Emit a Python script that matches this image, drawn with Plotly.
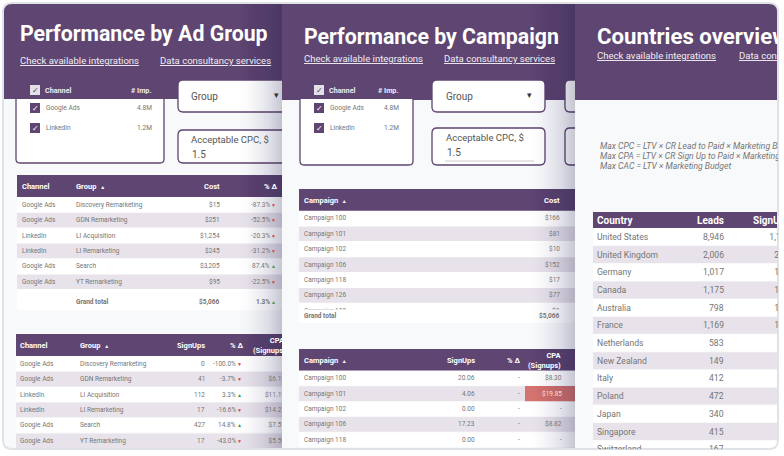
import plotly.graph_objects as go

W, H = 784, 456
PURPLE = "#5f4571"
STRIPE = "#e8e3ea"
PANEL = "#f8f9fa"
GREY = "#757575"
LINK = "#f1edf3"
FIG = "\u2007"
BOTTOM = 449

# panel 1
adgroup_channel = ["Google Ads", "Google Ads", "LinkedIn", "LinkedIn", "Google Ads", "Google Ads"]
adgroup_group = ["Discovery Remarketing", "GDN Remarketing", "LI Acquisition", "LI Remarketing", "Search", "YT Remarketing"]
adgroup_cost = ["$15", "$251", "$1,254", "$245", "$3,205", "$95"]
adgroup_cost_delta = [-87.3, -52.5, -20.3, -31.2, 87.4, -22.5]
adgroup_signups = [0, 41, 112, 17, 427, 17]
adgroup_signups_delta = [-100.0, -3.7, 3.3, -16.6, 14.8, -43.0]
adgroup_cpa = ["", "$6.12", "$11.19", "$14.21", "$7.51", "$5.59"]
# panel 2
campaign_names = ["Campaign 100", "Campaign 101", "Campaign 102", "Campaign 106", "Campaign 118", "Campaign 126"]
campaign_cost = ["$166", "$81", "$10", "$152", "$17", "$77"]
campaign_signups = ["20.06", "4.06", "0.00", "17.23", "0.00"]
campaign_cpa = ["$8.30", "$19.85", "-", "$8.82", "-"]
# panel 3
countries = ["United States", "United Kingdom", "Germany", "Canada", "Australia", "France", "Netherlands",
             "New Zealand", "Italy", "Poland", "Japan", "Singapore", "Switzerland"]
country_leads = ["8,946", "2,006", "1,017", "1,175", "798", "1,169", "583", "149", "412", "472", "340", "415", "167"]
country_signups = ["1,148", "256", "148", "142", "139", "121", "78", "45", "62", "58", "50", "57", "20"]
formulas = ["Max CPC = LTV × CR Lead to Paid × Marketing Budget",
            "Max CPA = LTV × CR Sign Up to Paid × Marketing Budget",
            "Max CAC = LTV × Marketing Budget"]

fig = go.Figure()
shapes, notes = [], []


def rect(x0, y0, x1, y1, fill, line=None, lw=0, layer="below"):
    shapes.append(dict(type="rect", x0=x0, y0=y0, x1=x1, y1=y1, fillcolor=fill, layer=layer,
                       line=dict(color=line or fill, width=lw)))


def round_path(x0, y0, x1, y1, r):
    return (f"M{x0+r},{y0} L{x1-r},{y0} Q{x1},{y0} {x1},{y0+r} L{x1},{y1-r} Q{x1},{y1} {x1-r},{y1} "
            f"L{x0+r},{y1} Q{x0},{y1} {x0},{y1-r} L{x0},{y0+r} Q{x0},{y0} {x0+r},{y0} Z")


def rrect(x0, y0, x1, y1, r, fill, line=None, lw=0):
    shapes.append(dict(type="path", path=round_path(x0, y0, x1, y1, r), fillcolor=fill, layer="below",
                       line=dict(color=line or fill, width=lw)))


def text(x, y, s, size=8, color=GREY, anchor="left", bold=False, width=None, italic=False, clip_h=None):
    # width and clip_h cut the text off, which is how the panels overlap in the picture
    notes.append(dict(x=x, y=y, text=s, xref="x", yref="y", showarrow=False, xanchor=anchor,
                      yanchor="top" if clip_h else "middle", valign="top", borderpad=0, borderwidth=0,
                      align="left" if anchor == "left" else anchor, width=width, height=clip_h,
                      font=dict(family="Roboto", size=size, color=color, weight=700 if bold else 400,
                                style="italic" if italic else "normal")))


def cell(x, yc, s, size, color=GREY, anchor="left", bold=False, width=None):
    top = yc - size * 0.65
    if yc + size * 0.6 > BOTTOM:
        if BOTTOM - top > 1:
            text(x, top, s, size, color, anchor, bold, width, clip_h=BOTTOM - top)
    else:
        text(x, yc, s, size, color, anchor, bold, width)


def rows(x0, x1, y0, n, row_h):
    for i in range(n):
        rect(x0, y0 + i * row_h + 0.4, x1, y0 + (i + 1) * row_h - 0.4, STRIPE if i % 2 else "white")


def column(x, y0, row_h, values, size, anchor="right", colors=None, width=None):
    for i, v in enumerate(values):
        cell(x, y0 + (i + 0.5) * row_h, str(v), size, colors[i] if colors else GREY, anchor, width=width)


def arrows(x, y0, row_h, deltas):
    for i, d in enumerate(deltas):
        text(x, y0 + (i + 0.5) * row_h, "▲" if d >= 0 else "▼", 5, "#3f9b57" if d >= 0 else "#d8424a", "center")


def pad(v, total):
    return FIG * max(round(total - len(v.replace(",", "")) - 0.5 * v.count(",")), 0) + v


def selector(x0, x1, xbox, xname, xval, y1):
    rrect(x0, 80, x1, y1, 4, "white", PURPLE, 1.3)
    rect(x0, 80, x1, 99, PURPLE)
    rect(xbox, 85, xbox + 10, 95, "#e4e0e8")
    text(xbox + 5, 90, "✓", 8, "#4a3a58", "center")
    text(xname, 90, "Channel", 7.2, LINK, bold=True)
    text(xval, 90, "# Imp.", 7.2, LINK, "right", bold=True)
    for y, name, val in [(108, "Google Ads", "4.8M"), (128, "LinkedIn", "1.2M")]:
        rect(xbox, y - 5, xbox + 10, y + 5, PURPLE)
        text(xbox + 5, y, "✓", 8, "white", "center")
        text(xname + 0.5, y, name, 6.6, GREY)
        text(xval, y, val, 6.6, GREY, "right")


def controls(x0, x1, xt, y_in0, y_in1, arrow):
    rrect(x0, 80, x1, 112, 5, "white", PURPLE, 1.3)
    text(xt, 96, "Group", 10, "#555555")
    text(arrow, 95, "▾", 9, "#333333", "center")
    rrect(x0, y_in0, x1, y_in1, 5, "white", PURPLE, 1.3)
    text(xt, y_in0 + 9, "Acceptable CPC, $", 9.5, "#555555")
    text(xt + 1, y_in0 + 24, "1.5", 10, "#555555")


def shadow(x1, span):
    steps = 22
    for i in range(steps):
        a = 0.024 * (i + 1) / steps
        rect(x1 - span + span * i / steps, 3, x1, BOTTOM, f"rgba(50,45,100,{a:.4f})", layer="above")


SORT = "<span style='font-size:5px'>▲</span>"

# ---- panel 1
rect(3, 3, 282, BOTTOM, PANEL)
rect(3, 3, 282, 99, PURPLE)
text(20, 33, "Performance by Ad Group", 21.3, "white", bold=True)
text(20, 60, "<u>Check available integrations</u>", 9.55, LINK)
text(160, 60, "<u>Data consultancy services</u>", 9.55, LINK)
selector(16, 164, 30, 45, 152, 163)
controls(178, 300, 191, 130, 163, 276)

rrect(17, 175, 282, 310, 4, "white")
rect(17, 175, 282, 197, PURPLE)
rows(17, 282, 197, 6, 15.4)
text(22, 186, "Channel", 7.5, "white", bold=True)
text(76, 186, "Group  " + SORT, 7.5, "white", bold=True)
text(220, 186, "Cost", 7.5, "white", "right", bold=True)
text(277, 186, "% Δ", 7.5, "white", "right", bold=True)
column(22, 197, 15.4, adgroup_channel, 6.5, "left")
column(76, 197, 15.4, adgroup_group, 6.5, "left")
column(220, 197, 15.4, adgroup_cost, 6.5)
column(270, 197, 15.4, [f"{v:.1f}%" for v in adgroup_cost_delta], 6.5)
arrows(273, 197, 15.4, adgroup_cost_delta)
text(76, 302, "Grand total", 6.5, GREY, bold=True)
text(220, 302, "$5,066", 6.5, GREY, "right", bold=True)
text(270, 302, "1.3%", 6.5, GREY, "right", bold=True)
arrows(273, 294.3, 15.4, [1.3])

rect(16, 334, 282, 356, PURPLE)
rows(16, 282, 356, 6, 15.4)
text(20, 345, "Channel", 7.5, "white", bold=True)
text(80, 345, "Group  " + SORT, 7.5, "white", bold=True)
text(205, 345, "SignUps", 7.5, "white", "right", bold=True)
text(243, 345, "% Δ", 7.5, "white", "right", bold=True)
text(253, 345, FIG * 4 + "CPA<br>(Signups)", 7.5, "white", bold=True, width=29)
column(20, 356, 15.4, adgroup_channel, 6.5, "left")
column(80, 356, 15.4, adgroup_group, 6.5, "left")
column(205, 356, 15.4, adgroup_signups, 6.5)
column(236, 356, 15.4, [f"{v:.1f}%" for v in adgroup_signups_delta], 6.5)
arrows(239.5, 356, 15.4, adgroup_signups_delta)
column(254, 356, 15.4, [pad(v, 9) for v in adgroup_cpa], 6.5, "left", width=28)
shadow(282, 44)

# ---- panel 2
rect(282, 3, 575, BOTTOM, PANEL)
rect(282, 3, 575, 100, PURPLE)
text(304, 36, "Performance by Campaign", 21.3, "white", bold=True)
text(304, 58, "<u>Check available integrations</u>", 9.55, LINK)
text(444, 58, "<u>Data consultancy services</u>", 9.55, LINK)
selector(300, 413, 314, 329, 399, 165)
controls(432, 545, 446, 128, 165, 529)
shapes.append(dict(type="line", x0=445, x1=534, y0=161, y1=161, line=dict(color="#cccccc", width=1), layer="below"))
rrect(565, 80, 590, 112, 5, "white", PURPLE, 1.3)
rrect(565, 128, 590, 165, 5, "white", PURPLE, 1.3)

rrect(299, 189, 575, 323, 4, "white")
rect(299, 189, 575, 210.7, PURPLE)
rows(299, 575, 210.7, 6, 15.4)
text(304, 200, "Campaign  " + SORT, 7.5, "white", bold=True)
text(560, 200, "Cost", 7.5, "white", "right", bold=True)
column(304, 210.7, 15.4, campaign_names, 6.5, "left")
column(560, 210.7, 15.4, campaign_cost, 6.5)
# the next row is scrolled away under the total, only its top shows
text(304, 307, "Campaign 128", 6.5, clip_h=2.5)
text(560, 307, "$2", 6.5, anchor="right", clip_h=2.5)
text(304, 316, "Grand total", 6.5, GREY, bold=True)
text(560, 316, "$5,066", 6.5, GREY, "right", bold=True)

rect(299, 349, 575, 370.5, PURPLE)
rows(299, 575, 370.5, 6, 15.4)
rect(525, 370.5 + 15.4, 575, 370.5 + 2 * 15.4, "#d4736f")
text(304, 360, "Campaign  " + SORT, 7.5, "white", bold=True)
text(475, 360, "SignUps", 7.5, "white", "right", bold=True)
text(520, 360, "% Δ", 7.5, "white", "right", bold=True)
text(562, 360, "CPA<br>(Signups)", 7.5, "white", "right", bold=True)
column(304, 370.5, 15.4, campaign_names[:5], 6.5, "left")
column(475, 370.5, 15.4, campaign_signups, 6.5)
column(520, 370.5, 15.4, ["-"] * 5, 6.5)
column(562, 370.5, 15.4, campaign_cpa, 6.5, colors=[GREY, "#f7dedc", GREY, GREY, GREY])
shadow(575, 46)

# ---- panel 3
rect(575, 3, 778, BOTTOM, PANEL)
rect(575, 3, 778, 100, PURPLE)
text(597, 36, "Countries overview", 22.2, "white", bold=True, width=181)
text(597, 55, "<u>Check available integrations</u>", 9.55, LINK)
text(739, 55, "<u>Data consultancy services</u>", 9.55, LINK, width=39)
for i, line in enumerate(formulas):
    text(600, 145.5 + i * 10.3, line, 8.6, GREY, width=178, italic=True)

rect(593, 212, 778, 228, PURPLE)
rows(593, 778, 228, 13, 17.7)
text(597, 220, "Country", 10, "white", bold=True)
text(724, 220, "Leads", 10, "white", "right", bold=True)
text(752.5, 220, "SignUps", 10, "white", bold=True, width=25.5)
column(597, 228, 17.7, countries, 8.6, "left")
column(724, 228, 17.7, country_leads, 8.6)
column(750, 228, 17.7, [pad(v, 8.4) for v in country_signups], 8.6, "left", width=28)

# white page outside the rounded frame
frame = round_path(3, 3, 778, BOTTOM, 9)
shapes.append(dict(type="path", path=f"M0,0 L0,{H} L{W},{H} L{W},0 Z " + frame, fillcolor="white",
                   layer="above", line=dict(width=0)))
shapes.append(dict(type="path", path=frame, fillcolor="rgba(0,0,0,0)", layer="above",
                   line=dict(color="#dfe3e8", width=2)))

fig.update_layout(
    width=W, height=H, margin=dict(l=0, r=0, t=0, b=0), paper_bgcolor="white", plot_bgcolor="white",
    showlegend=False, shapes=shapes, annotations=notes,
    xaxis=dict(range=[0, W], visible=False, fixedrange=True),
    yaxis=dict(range=[H, 0], visible=False, fixedrange=True),
)
fig.write_html("out.html", config=dict(displayModeBar=False),
               post_script="document.body.style.margin='0';")
